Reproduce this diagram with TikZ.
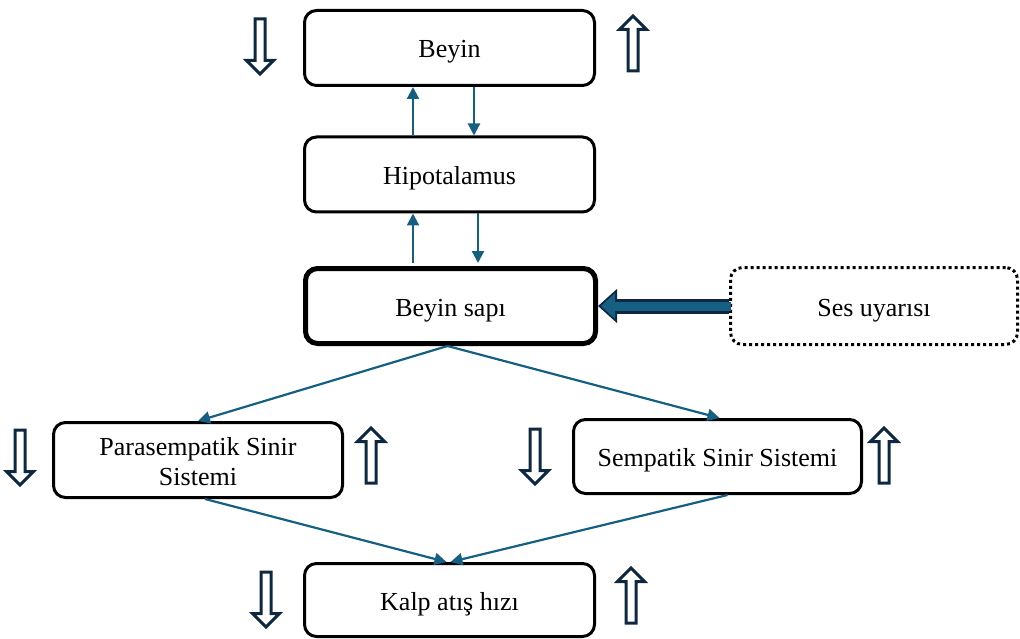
\documentclass[tikz,border=0pt]{standalone}
\usepackage{fontspec}
\setmainfont{Liberation Serif}
\usetikzlibrary{arrows.meta,shapes.arrows}
\definecolor{linkblue}{HTML}{156082}
\definecolor{darknavy}{HTML}{0E2841}
\begin{document}
\begin{tikzpicture}[x=1pt,y=-1pt,
        box/.style = {draw,line width=3pt,rounded corners=12pt,minimum width=290pt,minimum height=75pt,align=center,text height=22pt,text depth=2pt,font=\fontsize{26}{30}\selectfont},
        link/.style = {linkblue,line width=2.2pt,-{Triangle[length=12pt,width=12pt]}},
        hollowdown/.style = {single arrow,draw=darknavy,fill=white,line width=3pt,minimum height=55pt,inner sep=3.5pt,single arrow head extend=8.5pt,single arrow tip angle=90,shape border rotate=270},
        hollowup/.style = {hollowdown,shape border rotate=90}]
    \useasboundingbox (0,0) rectangle (1020,639);

    \node[box] (beyin) at (449.5,48) {Beyin};
    \node[box] (hip) at (449.5,174.5) {Hipotalamus};
    \node[box,line width=5pt,minimum height=75pt] (sapi) at (450.5,306) {Beyin sapı};
    \node[box,dash pattern=on 3pt off 3pt,minimum width=287pt,minimum height=77pt] (ses) at (874,306) {Ses uyarısı};
    \node[box,minimum width=289pt,text height=50pt,text depth=0pt] (paras) at (198,460) {Parasempatik Sinir\\Sistemi};
    \node[box,minimum width=288pt,minimum height=74pt] (semp) at (717.5,456.5) {Sempatik Sinir Sistemi};
    \node[box,minimum height=73pt] (kalp) at (449.5,600) {Kalp atış hızı};

    \node[hollowdown] (bd) at (260,44) {};
    \node[hollowup] (bu) at (633,46) {};
    \node[hollowdown] (pd) at (20,455) {};
    \node[hollowup] (pu) at (371,458) {};
    \node[hollowdown] (sd) at (535,454) {};
    \node[hollowup] (su) at (884,458) {};
    \node[hollowdown] (kd) at (266,597) {};
    \node[hollowup] (ku) at (631,598) {};

    \draw[link] ([xshift=-36.5pt]hip.north) -- ([xshift=-36.5pt]beyin.south);
    \draw[link] ([xshift=24.5pt]beyin.south) -- ([xshift=24.5pt]hip.north);
    \draw[link] ([xshift=-37.5pt,yshift=3pt]sapi.north) -- ([xshift=-36.5pt]hip.south);
    \draw[link] ([xshift=28.5pt]hip.south) -- ([xshift=27.5pt,yshift=3pt]sapi.north);

    \draw[link] ([xshift=-3pt]sapi.south) -- (paras.north);
    \draw[link] ([xshift=-3pt]sapi.south) -- ([xshift=2pt]semp.north);
    \draw[link] ([xshift=7pt]paras.south) -- ([xshift=-3pt]kalp.north);
    \draw[link] ([xshift=10pt]semp.south) -- ([xshift=1pt]kalp.north);

    \draw[darknavy,line width=15pt,-{Triangle[length=19pt,width=33pt]}] (ses.west) -- (sapi.east);
    \draw[linkblue,line width=9pt,shorten >=3pt,-{Triangle[length=14pt,width=25pt]}] ([xshift=2pt]ses.west) -- (sapi.east);
\end{tikzpicture}
\end{document}
